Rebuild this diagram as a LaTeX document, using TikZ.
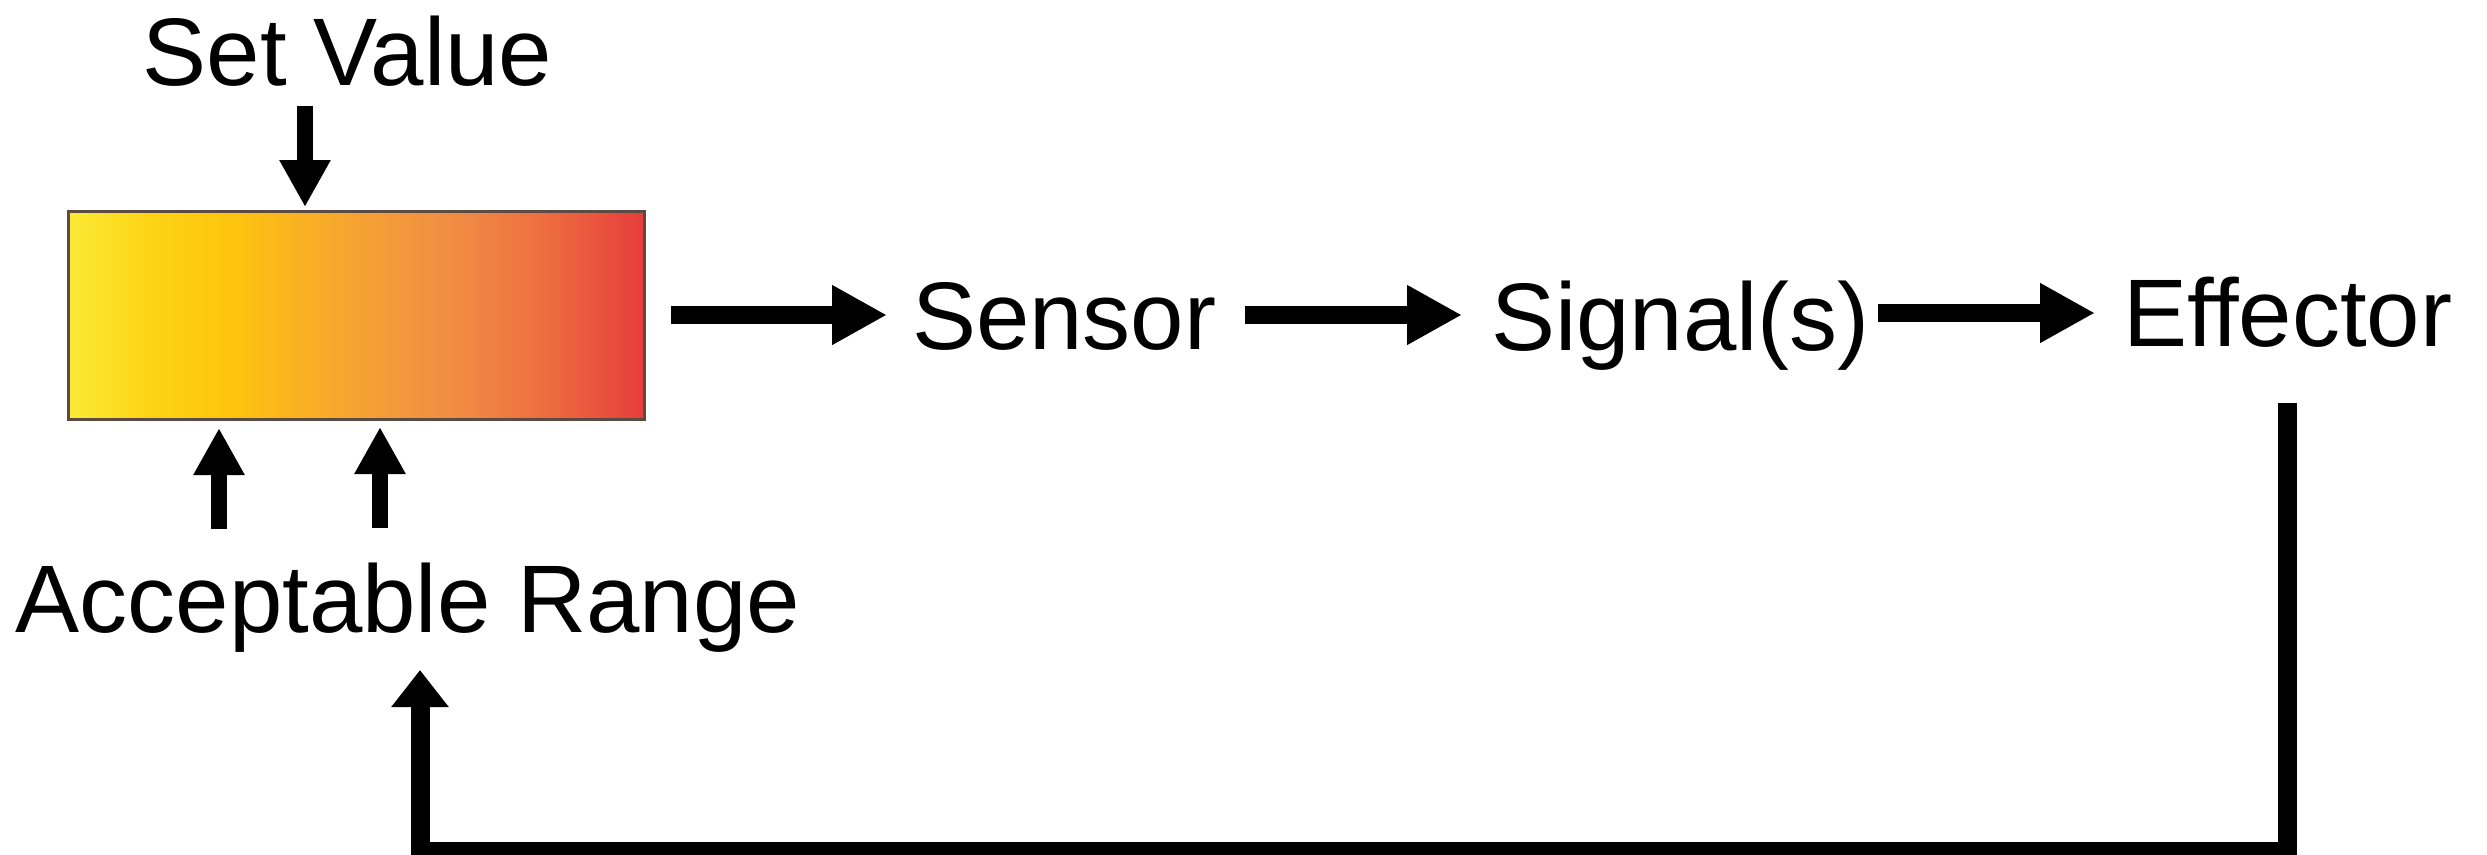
\documentclass[tikz,border=0pt]{standalone}
\usepackage{fontspec}
\setmainfont{Liberation Sans}
\usetikzlibrary{arrows.meta}

% colour stops of the set-point bar (yellow -> gold -> orange -> red)
\definecolor{hb0}{HTML}{FBEA36}
\definecolor{hb1}{HTML}{FDD415}
\definecolor{hb2}{HTML}{FDC50D}
\definecolor{hb3}{HTML}{F6A233}
\definecolor{hb4}{HTML}{F08E44}
\definecolor{hb5}{HTML}{EE6F40}
\definecolor{hb6}{HTML}{E73D3C}
\definecolor{barframe}{HTML}{5C4B42}

\pgfdeclarehorizontalshading{heatbar}{100bp}{%
  color(0bp)=(hb0); color(25bp)=(hb0); color(32bp)=(hb1); color(39bp)=(hb2);
  color(50bp)=(hb3); color(58bp)=(hb4); color(66bp)=(hb5);
  color(75bp)=(hb6); color(100bp)=(hb6)}

\begin{document}
\begin{tikzpicture}[x=1pt,y=-1pt,
  txt/.style={inner sep=0pt, outer sep=0pt, anchor=base west,
    font=\fontsize{96pt}{96pt}\selectfont},
  flowarrow/.style={line width=18pt, -{Triangle[length=55pt,width=56pt]}},
  inarrow/.style={line width=16pt, -{Triangle[length=47pt,width=48pt]}},
  backarrow/.style={line width=19pt, line join=miter,
    -{Triangle[length=37pt,width=55pt]}},
  bar/.style={draw=barframe, line width=3pt, shading=heatbar,
    minimum width=576pt, minimum height=208pt, inner sep=0pt, outer sep=0pt}
]
\useasboundingbox (0,0) rectangle (2487,854);

% control bar
\node[bar] (box) at (356,315) {};

% labels
\node[txt, anchor=base] (setval) at (347.5,85) {Set Value};
\node[txt, anchor=base] (range) at (408,632) {Acceptable Range};
\node[txt] (sensor) at (912,349) {Sensor};
\node[txt] (signal) at (1491,350) {Signal(s)};
\node[txt] (effector) at (2123,346) {Effector};

% set value into the bar
\coordinate (svtail) at (305,106);
\draw[inarrow] (svtail) -- ([yshift=4pt]box.north -| svtail);

% acceptable range into the bar
\coordinate (ra1) at (219,529);
\coordinate (ra2) at (380,528);
\draw[inarrow] (ra1) -- ([yshift=-9pt]box.south -| ra1);
\draw[inarrow] (ra2) -- ([yshift=-8pt]box.south -| ra2);

% main chain
\draw[flowarrow] ([xshift=27pt]box.east) -- ([xshift=-25pt]sensor.west |- box.east);
\draw[flowarrow] ([xshift=29pt]sensor.east |- box.east) -- ([xshift=-29pt]signal.west |- box.east);
\draw[flowarrow] ([xshift=8pt,yshift=2pt]signal.east |- box.east) -- ([xshift=-28pt,yshift=2pt]effector.west |- box.east);

% feedback from the effector back to the acceptable range
\coordinate (fbtop) at (2287.5,403);
\coordinate (fbend) at (420,670);
\draw[backarrow] (fbtop) -- (2287.5,851.5) -| (fbend);
\end{tikzpicture}
\end{document}
